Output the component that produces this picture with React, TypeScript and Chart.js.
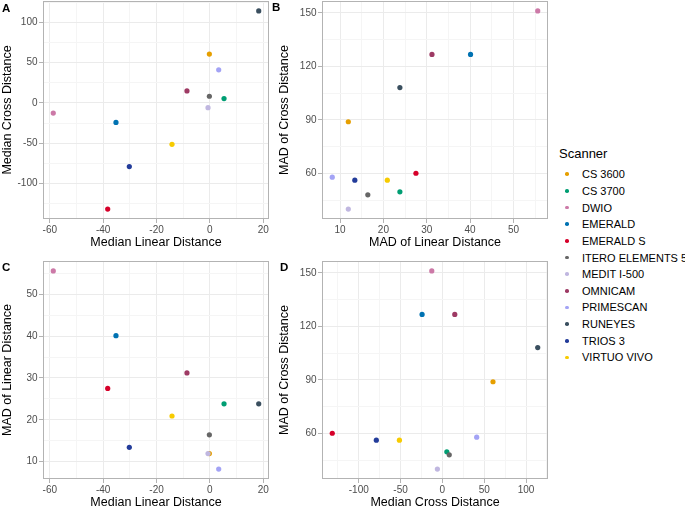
import React, { useEffect, useRef } from "react";
import { Chart, registerables } from "chart.js";

Chart.register(...registerables);

const FONT = '"Liberation Sans", Arial, Helvetica, sans-serif';

const scanners = [
  "CS 3600",
  "CS 3700",
  "DWIO",
  "EMERALD",
  "EMERALD S",
  "ITERO ELEMENTS 5",
  "MEDIT I-500",
  "OMNICAM",
  "PRIMESCAN",
  "RUNEYES",
  "TRIOS 3",
  "VIRTUO VIVO",
];

const scannerColors = [
  "#E69F00",
  "#009E73",
  "#CC79A7",
  "#0072B2",
  "#D6002A",
  "#666666",
  "#C0B7E0",
  "#9E3A64",
  "#A3A3F5",
  "#3A4F5F",
  "#233C9A",
  "#F7CB00",
];

const medianLinear = [-0.2, 5.3, -58.7, -35.2, -38.3, -0.2, -0.7, -8.6, 3.3, 18.3, -30.2, -14.2];
const medianCross = [60.5, 5.3, -12.7, -24.3, -131.7, 8.2, -6, 14.8, 41, 114, -79, -51.4];
const madLinear = [11.9, 23.8, 55.6, 40.1, 27.5, 16.4, 11.9, 31.2, 8.2, 23.8, 13.4, 20.9];
const madCross = [88.9, 49.6, 151.1, 126.7, 60, 47.9, 39.9, 126.7, 57.8, 108.1, 56.1, 56.1];

const medianLinearTicks = [-60, -40, -20, 0, 20];
const medianCrossTicks = [-100, -50, 0, 50, 100];
const madLinearTicks = [10, 20, 30, 40, 50];
const madCrossTicks = [60, 90, 120, 150];

function expand(vals: number[]): [number, number] {
  const lo = Math.min(...vals);
  const hi = Math.max(...vals);
  const pad = (hi - lo) * 0.05;
  return [lo - pad, hi + pad];
}

function withMinor(major: number[], min: number, max: number): number[] {
  const step = major[1] - major[0];
  const all: number[] = [...major];
  for (let v = major[0] - step / 2; v <= major[major.length - 1] + step / 2 + 1e-9; v += step) {
    if (v >= min && v <= max) all.push(v);
  }
  return all.filter((v) => v >= min && v <= max).sort((a, b) => a - b);
}

const borderPlugin = {
  id: "panelBorder",
  afterDraw(chart: any) {
    const { ctx, chartArea } = chart;
    const l = Math.round(chartArea.left) + 0.5;
    const t = Math.round(chartArea.top) + 0.5;
    const r = Math.round(chartArea.right) - 0.5;
    const b = Math.round(chartArea.bottom) - 0.5;
    ctx.save();
    ctx.strokeStyle = "#B3B3B3";
    ctx.lineWidth = 1;
    ctx.strokeRect(l, t, r - l, b - t);
    ctx.restore();
  },
};

type PanelProps = {
  xs: number[];
  ys: number[];
  xMajor: number[];
  yMajor: number[];
  xTitle: string;
  yTitle: string;
  left: number;
  top: number;
  width: number;
  height: number;
  padTop: number;
  yAxisWidth: number;
  xAxisHeight: number;
  xTitlePad: number;
};

function axisOptions(major: number[], all: number[], min: number, max: number, title: string, isX: boolean, size: number, titlePad: number) {
  const isMajor = (v: number) => major.some((m) => Math.abs(m - v) < 1e-9);
  return {
    type: "linear",
    position: isX ? "bottom" : "left",
    min,
    max,
    afterBuildTicks: (s: any) => {
      s.ticks = all.map((v) => ({ value: v }));
    },
    afterFit: (s: any) => {
      if (isX) s.height = size;
      else s.width = size;
      s.paddingTop = 0;
      s.paddingBottom = 0;
      s.paddingLeft = 0;
      s.paddingRight = 0;
    },
    ticks: {
      autoSkip: false,
      maxRotation: 0,
      minRotation: 0,
      padding: isX ? 1 : 1.5,
      color: "#4D4D4D",
      font: { family: FONT, size: 10 },
      callback: (v: any) => (isMajor(Number(v)) ? String(v) : ""),
    },
    grid: {
      drawTicks: true,
      tickLength: 4,
      lineWidth: 1,
      color: (ctx: any) => (ctx.tick && isMajor(ctx.tick.value) ? "#EBEBEB" : "#F5F5F5"),
      tickColor: (ctx: any) => (ctx.tick && isMajor(ctx.tick.value) ? "#B3B3B3" : "rgba(0,0,0,0)"),
    },
    border: { display: false },
    title: {
      display: true,
      text: title,
      color: "#000000",
      font: { family: FONT, size: 12.5 },
      padding: isX ? { top: 0, bottom: titlePad } : { top: 0, bottom: 0 },
    },
  };
}

function Panel(p: PanelProps) {
  const ref = useRef<HTMLCanvasElement>(null);
  useEffect(() => {
    if (!ref.current) return;
    const [xMin, xMax] = expand(p.xs);
    const [yMin, yMax] = expand(p.ys);
    const xAll = withMinor(p.xMajor, xMin, xMax);
    const yAll = withMinor(p.yMajor, yMin, yMax);
    const chart = new Chart(ref.current, {
      type: "scatter",
      data: {
        datasets: scanners.map((name, i) => ({
          label: name,
          data: [{ x: p.xs[i], y: p.ys[i] }],
          backgroundColor: scannerColors[i],
          borderWidth: 0,
          pointRadius: 2.6,
          order: scanners.length - i,
        })),
      },
      options: {
        animation: false,
        responsive: false,
        devicePixelRatio: 1,
        events: [],
        layout: { padding: { left: 0, top: p.padTop, right: 3, bottom: 0 }, autoPadding: false },
        plugins: { legend: { display: false }, tooltip: { enabled: false } },
        scales: {
          x: axisOptions(p.xMajor, xAll, xMin, xMax, p.xTitle, true, p.xAxisHeight, p.xTitlePad),
          y: axisOptions(p.yMajor, yAll, yMin, yMax, p.yTitle, false, p.yAxisWidth, 0),
        },
      } as any,
      plugins: [borderPlugin],
    });
    return () => chart.destroy();
  }, []);
  return (
    <canvas
      ref={ref}
      width={p.width}
      height={p.height}
      style={{ position: "absolute", left: p.left, top: p.top, width: p.width, height: p.height }}
    />
  );
}

const labelStyle: React.CSSProperties = {
  position: "absolute",
  fontFamily: FONT,
  fontWeight: "bold",
  fontSize: 11.5,
  lineHeight: "14px",
  color: "#000",
};

export default function App() {
  return (
    <div
      style={{
        position: "fixed",
        left: 0,
        top: 0,
        width: 685,
        height: 508,
        background: "#ffffff",
        overflow: "hidden",
        fontFamily: FONT,
      }}
    >
      <Panel
        xs={medianLinear}
        ys={medianCross}
        xMajor={medianLinearTicks}
        yMajor={medianCrossTicks}
        xTitle="Median Linear Distance"
        yTitle="Median Cross Distance"
        left={0}
        top={0}
        width={272}
        height={250}
        padTop={1}
        yAxisWidth={43}
        xAxisHeight={31}
        xTitlePad={0}
      />
      <Panel
        xs={madLinear}
        ys={madCross}
        xMajor={madLinearTicks}
        yMajor={madCrossTicks}
        xTitle="MAD of Linear Distance"
        yTitle="MAD of Cross Distance"
        left={277}
        top={0}
        width={274}
        height={250}
        padTop={1}
        yAxisWidth={45}
        xAxisHeight={31}
        xTitlePad={0}
      />
      <Panel
        xs={medianLinear}
        ys={madLinear}
        xMajor={medianLinearTicks}
        yMajor={madLinearTicks}
        xTitle="Median Linear Distance"
        yTitle="MAD of Linear Distance"
        left={0}
        top={258}
        width={272}
        height={250}
        padTop={3}
        yAxisWidth={43}
        xAxisHeight={29}
        xTitlePad={-2.5}
      />
      <Panel
        xs={medianCross}
        ys={madCross}
        xMajor={medianCrossTicks}
        yMajor={madCrossTicks}
        xTitle="Median Cross Distance"
        yTitle="MAD of Cross Distance"
        left={277}
        top={258}
        width={274}
        height={250}
        padTop={3}
        yAxisWidth={45}
        xAxisHeight={29}
        xTitlePad={-2.5}
      />
      <div style={{ ...labelStyle, left: 2, top: 1 }}>A</div>
      <div style={{ ...labelStyle, left: 272, top: 0 }}>B</div>
      <div style={{ ...labelStyle, left: 2, top: 259.5 }}>C</div>
      <div style={{ ...labelStyle, left: 280, top: 259.5 }}>D</div>

      <div
        style={{
          position: "absolute",
          left: 559,
          top: 145,
          fontSize: 13,
          lineHeight: "17px",
          color: "#000",
          whiteSpace: "nowrap",
        }}
      >
        Scanner
      </div>
      {scanners.map((name, i) => (
        <div key={name}>
          <div
            style={{
              position: "absolute",
              left: 565,
              top: 174.2 + i * 16.66 - 1.75,
              width: 3.5,
              height: 3.5,
              borderRadius: "50%",
              background: scannerColors[i],
            }}
          />
          <div
            style={{
              position: "absolute",
              left: 582,
              top: 174.2 + i * 16.66 - 7,
              fontSize: 11,
              lineHeight: "14px",
              color: "#000",
              whiteSpace: "nowrap",
            }}
          >
            {name}
          </div>
        </div>
      ))}
    </div>
  );
}
